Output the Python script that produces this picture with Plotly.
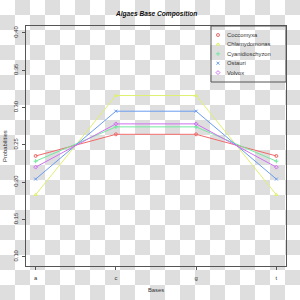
import plotly.graph_objects as go

# ---- data ----
bases = ["a", "c", "g", "t"]
species = ["Coccomyxa", "Chlamydomonas", "Cyanidioschyzon", "Ostauri", "Volvox"]
coccomyxa = [0.235, 0.264, 0.264, 0.235]
chlamydomonas = [0.183, 0.316, 0.316, 0.183]
cyanidioschyzon = [0.228, 0.274, 0.274, 0.228]
ostauri = [0.204, 0.295, 0.295, 0.204]
volvox = [0.220, 0.278, 0.278, 0.220]
y_ticks = [0.10, 0.15, 0.20, 0.25, 0.30, 0.35, 0.40]
y_tick_labels = ["0.10", "0.15", "0.20", "0.25", "0.30", "0.35", "0.40"]

series = [coccomyxa, chlamydomonas, cyanidioschyzon, ostauri, volvox]
colors = ["#f06a6a", "#e0f070", "#74e8a0", "#6a9cf0", "#d070f0"]
symbols = ["circle-open", "triangle-up-open", "cross-thin-open", "x-thin-open", "diamond-open"]

W = H = 300
def px(x):
    return x / W
def py(y):
    return 1 - y / H

fig = go.Figure()

# checkerboard background (transparency pattern of the reference image)
shapes = []
cell = 15
for r in range(H // cell):
    for c in range(W // cell):
        if (r + c) % 2 == 1:
            shapes.append(dict(type="rect", xref="paper", yref="paper",
                               x0=px(c * cell), x1=px((c + 1) * cell),
                               y0=py((r + 1) * cell), y1=py(r * cell),
                               fillcolor="#dedede", line=dict(width=0), layer="below"))

xpos = list(range(1, len(bases) + 1))
for name, vals, col, sym in zip(species, series, colors, symbols):
    fig.add_trace(go.Scatter(x=xpos, y=vals, mode="lines+markers", name=name,
                             line=dict(color=col, width=1),
                             marker=dict(symbol=sym, size=3, color=col,
                                         line=dict(color=col, width=1)),
                             showlegend=False))

# manual legend (R-style compact box)
leg_x0, leg_x1, leg_y0, leg_y1 = 211, 286, 26, 82
shapes.append(dict(type="rect", xref="paper", yref="paper",
                   x0=px(leg_x0), x1=px(leg_x1), y0=py(leg_y1), y1=py(leg_y0),
                   line=dict(color="#555555", width=1), fillcolor="rgba(0,0,0,0)"))
annotations = []
for i, (name, col, sym) in enumerate(zip(species, colors, symbols)):
    yy = 35 + 9.4 * i
    fig.add_trace(go.Scatter(x=[218], y=[yy], mode="markers", xaxis="x2", yaxis="y2",
                             marker=dict(symbol=sym, size=3, color=col,
                                         line=dict(color=col, width=1)),
                             showlegend=False, hoverinfo="skip"))
    annotations.append(dict(x=px(225), y=py(yy), xref="paper", yref="paper",
                            text=name, showarrow=False, xanchor="left", yanchor="middle",
                            font=dict(size=5.8, color="#333333", family="Liberation Sans")))

annotations.append(dict(x=px(156), y=py(13.5), xref="paper", yref="paper",
                        text="<b><i>Algaes Base Composition</i></b>", showarrow=False,
                        xanchor="center", yanchor="middle",
                        font=dict(size=6.6, color="#111111", family="Liberation Sans")))
annotations.append(dict(x=px(156), y=py(290), xref="paper", yref="paper",
                        text="Bases", showarrow=False, xanchor="center", yanchor="middle",
                        font=dict(size=5.8, color="#333333", family="Liberation Sans")))
annotations.append(dict(x=px(5), y=py(146), xref="paper", yref="paper",
                        text="Probabilities", showarrow=False, textangle=-90,
                        xanchor="center", yanchor="middle",
                        font=dict(size=5.8, color="#333333", family="Liberation Sans")))

axis_common = dict(showgrid=False, zeroline=False, showline=True, mirror=True,
                   linecolor="#555555", linewidth=1, ticks="outside", ticklen=3,
                   tickcolor="#555555", tickwidth=1,
                   tickfont=dict(size=5.8, color="#333333", family="Liberation Sans"))

fig.update_layout(
    width=W, height=H,
    margin=dict(l=0, r=0, t=0, b=0),
    paper_bgcolor="white", plot_bgcolor="rgba(0,0,0,0)",
    showlegend=False,
    shapes=shapes, annotations=annotations,
    xaxis=dict(domain=[px(26), px(286)], range=[0.88, 4.12],
               tickvals=xpos, ticktext=bases, ticklabelstandoff=3, **axis_common),
    yaxis=dict(domain=[py(266), py(26)], range=[0.0875, 0.4092],
               tickvals=y_ticks, ticktext=y_tick_labels, tickangle=-90,
               ticklabelstandoff=2, **axis_common),
    xaxis2=dict(domain=[0, 1], range=[0, W], visible=False, anchor="y2"),
    yaxis2=dict(domain=[0, 1], range=[H, 0], visible=False, anchor="x2"),
)

fig.write_html("out.html")
